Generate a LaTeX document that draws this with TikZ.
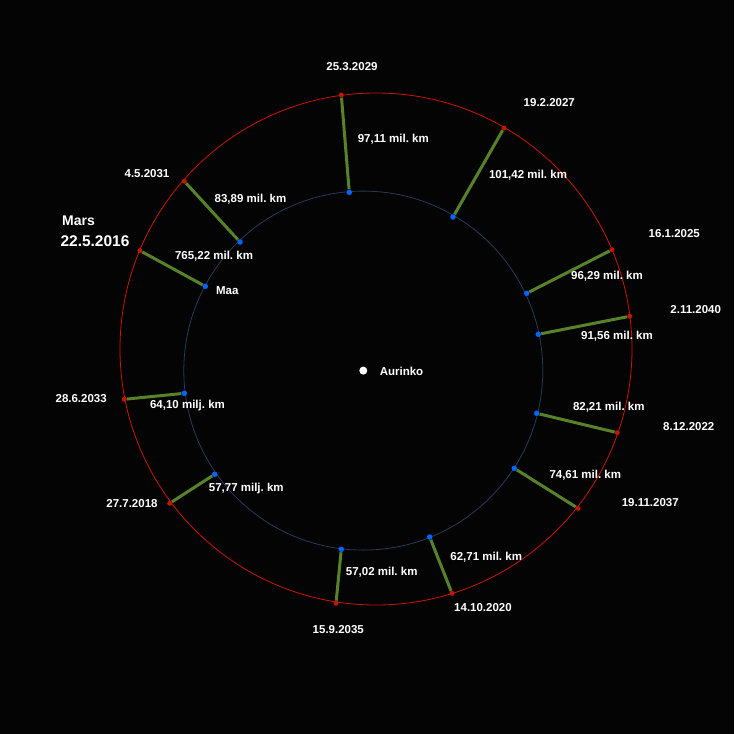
\documentclass[tikz,border=0pt]{standalone}
\usepackage{fontspec}
\setmainfont{Liberation Sans}
\usetikzlibrary{positioning}
\definecolor{marsred}{RGB}{205,20,0}
\definecolor{dotred}{RGB}{190,25,0}
\definecolor{earthline}{RGB}{38,58,90}
\definecolor{earthblue}{RGB}{0,100,255}
\definecolor{gapgreen}{RGB}{88,130,42}
\definecolor{sky}{RGB}{4,4,4}

\begin{document}
\begin{tikzpicture}[x=1pt,y=-1pt,
  marsdot/.style={circle,fill=dotred,inner sep=0pt,minimum size=5pt},
  earthdot/.style={circle,fill=earthblue,inner sep=0pt,minimum size=5.5pt},
  distline/.style={draw=gapgreen,line width=3pt},
  datelbl/.style={text=white,font=\bfseries\frenchspacing\fontsize{11.5}{13}\selectfont,inner sep=0pt},
  distlbl/.style={text=white,font=\bfseries\frenchspacing\fontsize{11.5}{13}\selectfont,inner sep=0pt}]
\fill[sky] (0,0) rectangle (734,734);
\coordinate (sunc) at (363.3,370.6);
\coordinate (marsc) at (376,349);
% orbits
\draw[earthline,line width=0.8pt] (sunc) circle[radius=179.5pt];
\draw[marsred,line width=0.8pt] (marsc) circle[radius=256pt];
\node[circle,fill=white,inner sep=0pt,minimum size=8pt] (sun) at (sunc) {};
\node[datelbl] (aurinko) at (401.5,371.7) {Aurinko};

% Mars / Maa positions
\node[marsdot] (m2029) at (341.3,95) {};
\node[earthdot] (e2029) at (349.3,192.3) {};
\node[marsdot] (m2027) at (504,128) {};
\node[earthdot] (e2027) at (453,217) {};
\node[marsdot] (m2025) at (612,249.7) {};
\node[earthdot] (e2025) at (526.7,293.3) {};
\node[marsdot] (m2040) at (629.7,316.3) {};
\node[earthdot] (e2040) at (538.3,334.3) {};
\node[marsdot] (m2022) at (617.3,432.7) {};
\node[earthdot] (e2022) at (536.7,413.3) {};
\node[marsdot] (m2037) at (578,508.3) {};
\node[earthdot] (e2037) at (514.3,468.3) {};
\node[marsdot] (m2020) at (452,593.3) {};
\node[earthdot] (e2020) at (429.7,537) {};
\node[marsdot] (m2035) at (336,603.3) {};
\node[earthdot] (e2035) at (341.3,549.3) {};
\node[marsdot] (m2018) at (169.7,503.3) {};
\node[earthdot] (e2018) at (214.7,474.3) {};
\node[marsdot] (m2033) at (124.3,399.3) {};
\node[earthdot] (e2033) at (184.3,393.3) {};
\node[marsdot] (m2016) at (140,250.7) {};
\node[earthdot] (e2016) at (205.3,286.3) {};
\node[marsdot] (m2031) at (184.3,181.3) {};
\node[earthdot] (e2031) at (240,242) {};

% distances
\draw[distline] (m2029)--(e2029);
\draw[distline] (m2027)--(e2027);
\draw[distline] (m2025)--(e2025);
\draw[distline] (m2040)--(e2040);
\draw[distline] (m2022)--(e2022);
\draw[distline] (m2037)--(e2037);
\draw[distline] (m2020)--(e2020);
\draw[distline] (m2035)--(e2035);
\draw[distline] (m2018)--(e2018);
\draw[distline] (m2033)--(e2033);
\draw[distline] (m2016)--(e2016);
\draw[distline] (m2031)--(e2031);

% dates
\node[datelbl] (d2029) at (352,66.7) {25.3.2029};
\node[datelbl] (d2027) at (549.3,102.7) {19.2.2027};
\node[datelbl] (d2025) at (674.3,234) {16.1.2025};
\node[datelbl] (d2040) at (695.7,309.3) {2.11.2040};
\node[datelbl] (d2022) at (688.8,426.7) {8.12.2022};
\node[datelbl] (d2037) at (650.3,502.3) {19.11.2037};
\node[datelbl] (d2020) at (483,607.3) {14.10.2020};
\node[datelbl] (d2035) at (338.3,629.3) {15.9.2035};
\node[datelbl] (d2018) at (132,504) {27.7.2018};
\node[datelbl] (d2033) at (81.2,399) {28.6.2033};
\node[datelbl] (d2031) at (147,174) {4.5.2031};
\node[datelbl,font=\bfseries\fontsize{14}{16}\selectfont] (mars) at (78.5,221) {Mars};
\node[datelbl,font=\bfseries\fontsize{15.5}{18}\selectfont] (d2016) at (95,241) {22.5.2016};
\node[datelbl] (maa) at (227.3,290.7) {Maa};

% distance labels
\node[distlbl] (k2029) at (393.3,139.3) {97,11 mil. km};
\node[distlbl] (k2027) at (528,175.7) {101,42 mil. km};
\node[distlbl] (k2025) at (607,276.7) {96,29 mil. km};
\node[distlbl] (k2040) at (617,336.7) {91,56 mil. km};
\node[distlbl] (k2022) at (608.8,407.7) {82,21 mil. km};
\node[distlbl] (k2037) at (585.3,475.7) {74,61 mil. km};
\node[distlbl] (k2020) at (486.2,557.3) {62,71 mil. km};
\node[distlbl] (k2035) at (381.7,572.7) {57,02 mil. km};
\node[distlbl] (k2018) at (246.3,489) {57,77 milj. km};
\node[distlbl] (k2033) at (187.5,406) {64,10 milj. km};
\node[distlbl] (k2016) at (214,256.7) {765,22 mil. km};
\node[distlbl] (k2031) at (250.5,199) {83,89 mil. km};
\end{tikzpicture}
\end{document}
